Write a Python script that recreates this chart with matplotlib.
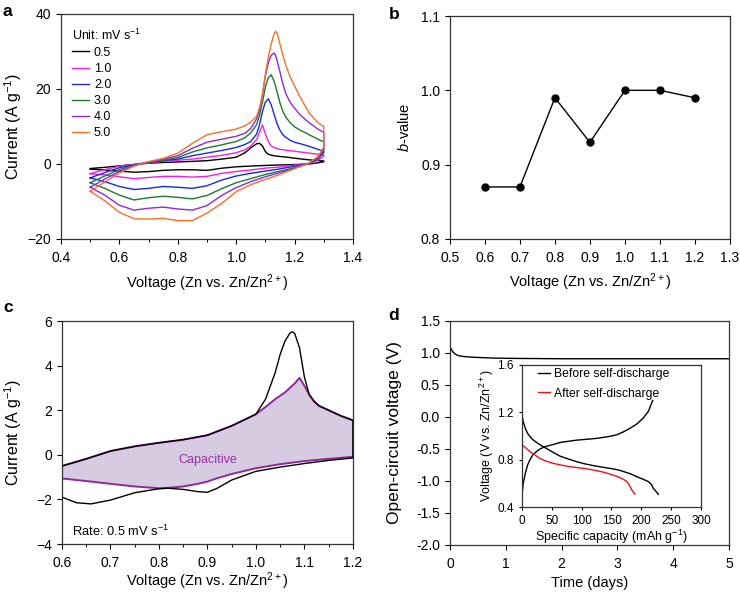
import matplotlib

matplotlib.use("Agg")
import matplotlib.pyplot as plt
from matplotlib.ticker import MultipleLocator, FormatStrFormatter

plt.rcParams.update({
    "font.family": ["Liberation Sans", "DejaVu Sans"],
    "font.size": 10,
    "mathtext.fontset": "custom",
    "mathtext.rm": "Liberation Sans",
    "mathtext.it": "Liberation Sans:italic",
    "mathtext.bf": "Liberation Sans:bold",
    "axes.linewidth": 0.9,
    "axes.edgecolor": "#333333",
    "xtick.direction": "out",
    "ytick.direction": "out",
    "xtick.labelsize": 10,
    "ytick.labelsize": 10,
    "xtick.major.size": 3.5,
    "ytick.major.size": 3.5,
    "xtick.minor.size": 2.0,
    "xtick.major.width": 0.8,
    "ytick.major.width": 0.8,
    "xtick.minor.width": 0.7,
    "xtick.major.pad": 5.0,
})

# ---------------- panel a: CV at different scan rates ----------------
scan_rates = ["0.5", "1.0", "2.0", "3.0", "4.0", "5.0"]
cv_colors = ["#000000", "#ee22dd", "#1a2bd6", "#1f7a2c", "#8a2be0", "#f4712c"]

v_up = [0.50, 0.55, 0.60, 0.65, 0.70, 0.75, 0.80, 0.85, 0.90, 0.95, 1.00, 1.03, 1.05, 1.07,
        1.08, 1.09, 1.10, 1.11, 1.12, 1.13, 1.135, 1.14, 1.15, 1.16, 1.17, 1.185, 1.20,
        1.22, 1.25, 1.28, 1.30]
v_dn = [1.30, 1.28, 1.25, 1.20, 1.15, 1.10, 1.05, 1.00, 0.95, 0.90, 0.85, 0.80, 0.75, 0.70,
        0.65, 0.60, 0.55, 0.50]

i_up_05 = [-1.2, -0.9, -0.5, -0.15, 0.2, 0.4, 0.54, 0.7, 0.88, 1.3, 1.8, 3.0, 4.3, 5.4,
           5.5, 4.8, 3.3, 2.6, 2.35, 2.2, 2.15, 2.1, 2.0, 1.92, 1.85, 1.7, 1.55,
           1.35, 1.1, 0.9, 0.8]
i_up_10 = [-2.6, -1.5, -0.6, -0.1, 0.3, 0.7, 1.0, 1.3, 1.8, 2.3, 3.0, 3.8, 4.8, 6.5,
           8.5, 10.4, 8.0, 6.0, 4.8, 4.4, 4.25, 4.1, 3.9, 3.8, 3.7, 3.55, 3.4,
           3.2, 2.9, 2.6, 2.4]
i_up_20 = [-3.7, -2.3, -1.0, -0.2, 0.4, 0.9, 1.3, 2.2, 2.9, 3.6, 4.4, 5.2, 6.0, 8.0,
           10.5, 14.0, 16.5, 17.4, 15.8, 13.2, 12.0, 10.7, 9.0, 7.8, 7.1, 6.3, 5.8,
           5.4, 4.7, 3.9, 3.4]
i_up_30 = [-5.0, -3.2, -1.5, -0.3, 0.5, 1.0, 1.7, 3.2, 4.3, 5.1, 6.0, 7.0, 8.3, 10.5,
           13.0, 16.5, 20.5, 23.0, 23.8, 22.0, 20.7, 19.2, 16.3, 14.0, 12.5, 11.0, 9.9,
           9.0, 7.8, 6.6, 5.9]
i_up_40 = [-6.2, -4.0, -2.0, -0.4, 0.6, 1.3, 2.2, 4.2, 5.8, 6.6, 7.4, 8.2, 9.5, 12.0,
           14.5, 18.5, 23.5, 27.0, 29.0, 29.6, 29.0, 27.6, 24.5, 21.3, 18.8, 16.4, 14.9,
           13.0, 11.0, 9.3, 8.4]
i_up_50 = [-7.3, -4.8, -2.4, -0.6, 0.6, 1.5, 2.9, 5.5, 7.8, 8.6, 9.3, 10.2, 11.2, 12.7,
           15.0, 18.5, 24.0, 28.5, 32.0, 34.8, 35.4, 35.0, 32.0, 29.0, 26.3, 23.2, 20.8,
           17.7, 13.6, 11.0, 10.0]

i_dn_05 = [0.6, 0.3, 0.0, -0.16, -0.25, -0.39, -0.55, -0.76, -1.13, -1.7, -1.55, -1.54,
           -1.7, -2.03, -2.2, -1.9, -1.6, -1.4]
i_dn_10 = [2.0, 1.0, 0.1, -0.3, -0.8, -1.1, -1.6, -2.0, -2.5, -3.3, -3.5, -3.3, -3.3,
           -3.6, -3.9, -3.4, -2.9, -2.6]
i_dn_20 = [3.0, 1.3, 0.2, -0.6, -1.3, -1.9, -2.5, -3.2, -4.3, -5.8, -6.5, -6.2, -6.0,
           -6.5, -6.8, -6.0, -4.7, -3.7]
i_dn_30 = [3.5, 1.5, 0.2, -1.0, -1.9, -2.8, -3.9, -5.0, -6.6, -8.4, -9.3, -8.9, -8.6,
           -9.0, -9.6, -8.3, -6.5, -5.0]
i_dn_40 = [4.0, 1.8, 0.2, -1.2, -2.3, -3.4, -4.7, -6.3, -8.4, -11.1, -12.3, -12.0, -11.5,
           -11.8, -12.3, -11.0, -8.3, -6.2]
i_dn_50 = [4.5, 2.0, 0.3, -1.2, -2.8, -4.1, -5.5, -7.4, -10.5, -13.1, -15.1, -15.1, -14.5,
           -14.7, -14.6, -12.9, -9.8, -7.3]

cv_up = [i_up_05, i_up_10, i_up_20, i_up_30, i_up_40, i_up_50]
cv_dn = [i_dn_05, i_dn_10, i_dn_20, i_dn_30, i_dn_40, i_dn_50]

# ---------------- panel b: b-values ----------------
b_voltage = [0.6, 0.7, 0.8, 0.9, 1.0, 1.1, 1.2]
b_value = [0.87, 0.87, 0.99, 0.93, 1.00, 1.00, 0.99]

# ---------------- panel c: capacitive contribution at 0.5 mV/s ----------------
c_v_up = [0.60, 0.65, 0.70, 0.75, 0.80, 0.85, 0.90, 0.95, 1.00, 1.02, 1.04, 1.05, 1.06,
          1.07, 1.075, 1.08, 1.09, 1.10, 1.11, 1.12, 1.13, 1.15, 1.175, 1.20]
c_total_up = [-0.5, -0.18, 0.17, 0.38, 0.54, 0.68, 0.88, 1.3, 1.82, 2.5, 3.7, 4.5, 5.1,
              5.45, 5.52, 5.45, 4.8, 3.5, 2.7, 2.4, 2.2, 2.0, 1.75, 1.55]
c_cap_up = [-0.5, -0.18, 0.17, 0.38, 0.54, 0.68, 0.88, 1.3, 1.82, 2.15, 2.5, 2.65, 2.8,
            3.0, 3.1, 3.2, 3.45, 3.1, 2.7, 2.4, 2.2, 2.0, 1.75, 1.55]
c_v_dn = [1.20, 1.15, 1.10, 1.05, 1.00, 0.95, 0.92, 0.90, 0.88, 0.85, 0.82, 0.80, 0.75,
          0.70, 0.66, 0.63, 0.60]
c_total_dn = [-0.14, -0.25, -0.39, -0.55, -0.74, -1.13, -1.5, -1.68, -1.65, -1.55, -1.5,
              -1.52, -1.7, -2.03, -2.2, -2.15, -1.9]
c_cap_dn = [-0.09, -0.18, -0.28, -0.42, -0.6, -0.86, -1.05, -1.2, -1.3, -1.42, -1.48,
            -1.5, -1.42, -1.3, -1.2, -1.13, -1.06]

# ---------------- panel d: open-circuit voltage and inset ----------------
ocv_days = [0.0, 0.03, 0.06, 0.1, 0.15, 0.2, 0.3, 0.5, 0.8, 1.2, 2.0, 3.0, 4.0, 5.0]
ocv_volt = [1.10, 1.05, 1.01, 0.98, 0.96, 0.95, 0.94, 0.93, 0.92, 0.915, 0.91, 0.91, 0.91, 0.91]

before_chg_cap = [0, 2, 5.6, 9, 13.4, 18, 24.6, 30, 38.5, 50, 63.7, 80, 91.6, 110, 125, 145,
                  158.7, 170, 181, 192, 203, 212, 219]
before_chg_v = [0.50, 0.60, 0.685, 0.75, 0.80, 0.84, 0.87, 0.89, 0.91, 0.925, 0.945, 0.957,
                0.965, 0.973, 0.98, 0.995, 1.01, 1.035, 1.065, 1.10, 1.15, 1.21, 1.30]
before_dis_cap = [0, 2, 5.6, 9, 13.4, 18, 24.6, 32, 41, 52, 63.7, 78, 91.6, 105, 119.5, 133,
                  147, 160, 170, 182, 192.6, 205, 212, 217, 220, 224, 228.5]
before_dis_v = [1.18, 1.12, 1.065, 1.025, 0.995, 0.97, 0.945, 0.92, 0.895, 0.862, 0.83,
                0.805, 0.783, 0.765, 0.75, 0.738, 0.727, 0.715, 0.70, 0.68, 0.656, 0.63,
                0.614, 0.59, 0.558, 0.535, 0.507]
after_dis_cap = [0, 5, 13.4, 22, 30, 40, 52.5, 65, 80.4, 92, 103, 115, 125, 137, 147, 160,
                 170, 175, 178, 181, 184, 187, 189]
after_dis_v = [0.924, 0.905, 0.868, 0.838, 0.811, 0.788, 0.769, 0.755, 0.741, 0.733,
               0.727, 0.717, 0.707, 0.694, 0.679, 0.657, 0.634, 0.618, 0.60, 0.575, 0.544,
               0.525, 0.51]

VOLT_LABEL = "Voltage (Zn vs. Zn/Zn$^{2+}$)"
CUR_LABEL = "Current (A g$^{-1}$)"


def place_labels(ax, xy_x, xy_y):
    # put axis labels at fixed spots (axes fraction), centred on them
    ax.xaxis.set_label_coords(*xy_x)
    ax.yaxis.set_label_coords(*xy_y)
    ax.xaxis.label.set_va("center")
    ax.yaxis.label.set_va("center")


fig = plt.figure(figsize=(7.4, 5.93), dpi=100)

ax_a = fig.add_axes([0.0824, 0.597, 0.3946, 0.3794])
ax_b = fig.add_axes([0.608, 0.597, 0.3784, 0.376])
ax_c = fig.add_axes([0.0838, 0.0826, 0.393, 0.376])
ax_d = fig.add_axes([0.608, 0.081, 0.377, 0.3777])
ax_in = fig.add_axes([0.7054, 0.145, 0.2419, 0.2395])

# --- a ---
for rate, col, up, dn in zip(scan_rates, cv_colors, cv_up, cv_dn):
    ax_a.plot(v_up + v_dn, up + dn, color=col, lw=1.0, label=rate)
ax_a.set_xlim(0.4, 1.4)
ax_a.set_ylim(-20, 40)
ax_a.xaxis.set_major_locator(MultipleLocator(0.2))
ax_a.xaxis.set_minor_locator(MultipleLocator(0.1))
ax_a.xaxis.set_major_formatter(FormatStrFormatter("%.1f"))
ax_a.yaxis.set_major_locator(MultipleLocator(20))
ax_a.set_xlabel(VOLT_LABEL, fontsize=10.5)
ax_a.set_ylabel(CUR_LABEL, fontsize=11.5)
place_labels(ax_a, (0.5, -0.195), (-0.163, 0.5))
leg = ax_a.legend(title="Unit: mV s$^{-1}$", loc="upper left", frameon=False, fontsize=9,
                  title_fontsize=9, handlelength=1.36, handletextpad=0.4,
                  labelspacing=0.33, borderaxespad=0.0, bbox_to_anchor=(0.02, 0.962))
leg._legend_box.align = "left"

# --- b ---
ax_b.plot(b_voltage, b_value, color="black", lw=1.0, marker="o", ms=5)
ax_b.set_xlim(0.5, 1.3)
ax_b.set_ylim(0.8, 1.1)
ax_b.xaxis.set_major_locator(MultipleLocator(0.1))
ax_b.xaxis.set_major_formatter(FormatStrFormatter("%.1f"))
ax_b.yaxis.set_major_locator(MultipleLocator(0.1))
ax_b.yaxis.set_major_formatter(FormatStrFormatter("%.1f"))
ax_b.set_xlabel(VOLT_LABEL, fontsize=10.5)
ax_b.set_ylabel("$\\it{b}$-value", fontsize=10.5)
place_labels(ax_b, (0.5, -0.195), (-0.161, 0.5))

# --- c ---
ax_c.fill(c_v_up + c_v_dn, c_cap_up + c_cap_dn, color="#d6cbe0", lw=0)
ax_c.plot(c_v_up, c_cap_up, color="#8e2a96", lw=1.4)
ax_c.plot(c_v_dn, c_cap_dn, color="#8e2a96", lw=1.4)
ax_c.plot(c_v_up + c_v_dn, c_total_up + c_total_dn, color="black", lw=1.0)
ax_c.text(0.9, -0.21, "Capacitive", color="#9a2ea2", fontsize=9, ha="center", va="center")
ax_c.text(0.035, 0.055, "Rate: 0.5 mV s$^{-1}$", transform=ax_c.transAxes, fontsize=9.3,
          ha="left", va="center")
ax_c.set_xlim(0.6, 1.2)
ax_c.set_ylim(-4, 6)
ax_c.xaxis.set_major_locator(MultipleLocator(0.1))
ax_c.xaxis.set_minor_locator(MultipleLocator(0.05))
ax_c.xaxis.set_major_formatter(FormatStrFormatter("%.1f"))
ax_c.yaxis.set_major_locator(MultipleLocator(2))
ax_c.set_xlabel(VOLT_LABEL, fontsize=10.5)
ax_c.set_ylabel(CUR_LABEL, fontsize=11.5)
place_labels(ax_c, (0.5, -0.165), (-0.168, 0.5))

# --- d ---
ax_d.plot(ocv_days, ocv_volt, color="black", lw=1.0)
ax_d.set_xlim(0, 5)
ax_d.set_ylim(-2.0, 1.5)
ax_d.xaxis.set_major_locator(MultipleLocator(1))
ax_d.yaxis.set_major_locator(MultipleLocator(0.5))
ax_d.yaxis.set_major_formatter(FormatStrFormatter("%.1f"))
ax_d.set_xlabel("Time (days)", fontsize=10.5)
ax_d.set_ylabel("Open-circuit voltage (V)", fontsize=12.5)
place_labels(ax_d, (0.5, -0.17), (-0.197, 0.5))

ax_in.plot(before_chg_cap, before_chg_v, color="black", lw=1.0, label="Before self-discharge")
ax_in.plot(before_dis_cap, before_dis_v, color="black", lw=1.0)
ax_in.plot(after_dis_cap, after_dis_v, color="#e8141c", lw=1.0, label="After self-discharge")
ax_in.set_xlim(0, 300)
ax_in.set_ylim(0.4, 1.6)
ax_in.xaxis.set_major_locator(MultipleLocator(50))
ax_in.yaxis.set_major_locator(MultipleLocator(0.4))
ax_in.yaxis.set_major_formatter(FormatStrFormatter("%.1f"))
ax_in.tick_params(labelsize=8.5, length=2.5)
ax_in.tick_params(axis="x", pad=3)
ax_in.set_xlabel("Specific capacity (mAh g$^{-1}$)", fontsize=9)
ax_in.set_ylabel("Voltage (V vs. Zn/Zn$^{2+}$)", fontsize=9)
place_labels(ax_in, (0.5, -0.21), (-0.196, 0.5))
ax_in.legend(loc="upper left", frameon=False, fontsize=8.7, handlelength=1.0,
             handletextpad=0.4, labelspacing=0.6, borderaxespad=0.0,
             bbox_to_anchor=(0.06, 1.01))

# panel letters
for lbl, x, y in [("a", 0.004, 0.98), ("b", 0.525, 0.975), ("c", 0.004, 0.482), ("d", 0.525, 0.468)]:
    fig.text(x, y, lbl, fontsize=12.5, fontweight="bold", ha="left", va="center")

fig.savefig("out.png", dpi=100)
